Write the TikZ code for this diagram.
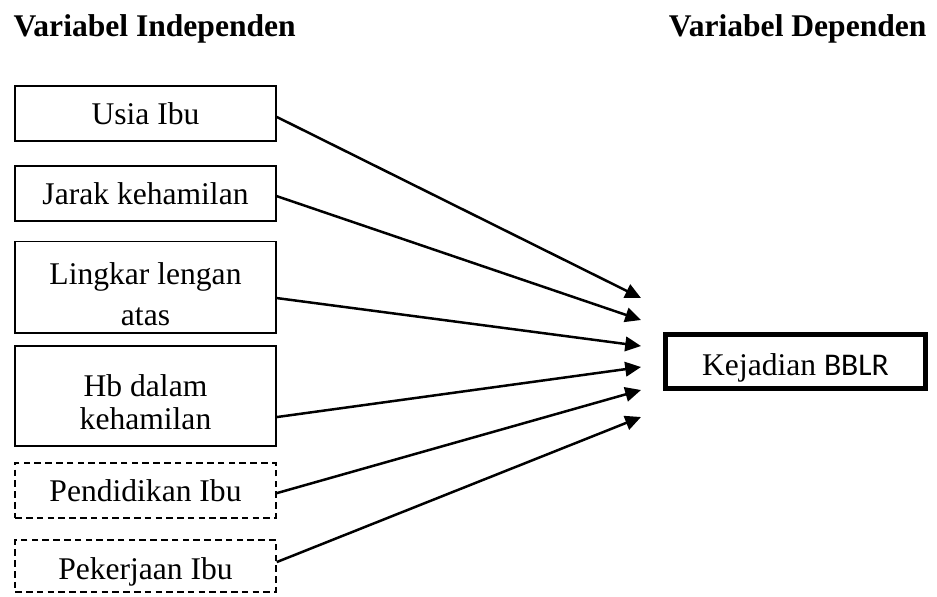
\documentclass[tikz,border=0pt]{standalone}
\usepackage{fontspec}
\setmainfont{Liberation Serif}
\newfontfamily\calibri{Carlito}
\usetikzlibrary{arrows.meta}

\begin{document}
\begin{tikzpicture}[x=0.38pt,y=-0.38pt,font=\fontsize{12}{14.4}\selectfont,
   var/.style={draw,line width=0.75pt,minimum width=99pt,align=center,inner sep=0pt},
   varputus/.style={var,dash pattern=on 2.5pt off 1.6pt},
   panah/.style={line width=0.95pt,-{Triangle[length=6pt,width=5.5pt]}}]
\useasboundingbox (0,0) rectangle (937,596);
% judul
   \node[anchor=base west,inner sep=0pt] (jdl1) at (13,36) {\textbf{Variabel Independen}};
   \node[anchor=base east,inner sep=0pt] (jdl2) at (927,36) {\textbf{Variabel Dependen}};
% variabel independen
   \node[var,minimum height=20.9pt] (usia) at (145.5,113.5) {Usia Ibu};
   \node[var,minimum height=20.9pt] (jarak) at (145.5,193.5) {Jarak kehamilan};
   \node[var,minimum height=34.6pt] (lila) at (145.5,287) {\rule{0pt}{13.7pt}Lingkar lengan\\[1pt] atas};
   \node[var,minimum height=38pt] (hb) at (145.5,396) {\rule{0pt}{13pt}Hb dalam\\[-2pt] kehamilan};
   \node[varputus,minimum height=20.9pt] (didik) at (145.5,490.5) {Pendidikan Ibu};
   \node[varputus,minimum height=19.8pt,text height=10.6pt,text depth=0pt] (kerja) at (145.5,566) {Pekerjaan Ibu};
% variabel dependen
   \node[draw,line width=1.9pt,minimum width=98.8pt,minimum height=20.5pt,inner sep=0pt,
   text height=11pt,text depth=0pt] (bblr) at (795.5,361.5) {Kejadian {\calibri BBLR}};
% panah
   \coordinate (t1) at (641,298); \coordinate (t2) at (641,320);
   \coordinate (t3) at (641,346); \coordinate (t4) at (641,367);
   \coordinate (t5) at (641,390); \coordinate (t6) at (641,417);
   \draw[panah] ([yshift=-1.3pt]usia.east) -- (t1);
   \draw[panah] ([yshift=-1pt]jarak.east) -- (t2);
   \draw[panah] ([yshift=-4.2pt]lila.east) -- (t3);
   \draw[panah] ([yshift=-8pt]hb.east) -- (t4);
   \draw[panah] ([yshift=-1pt]didik.east) -- (t5);
   \draw[panah] ([yshift=1.5pt]kerja.east) -- (t6);
\end{tikzpicture}
\end{document}
